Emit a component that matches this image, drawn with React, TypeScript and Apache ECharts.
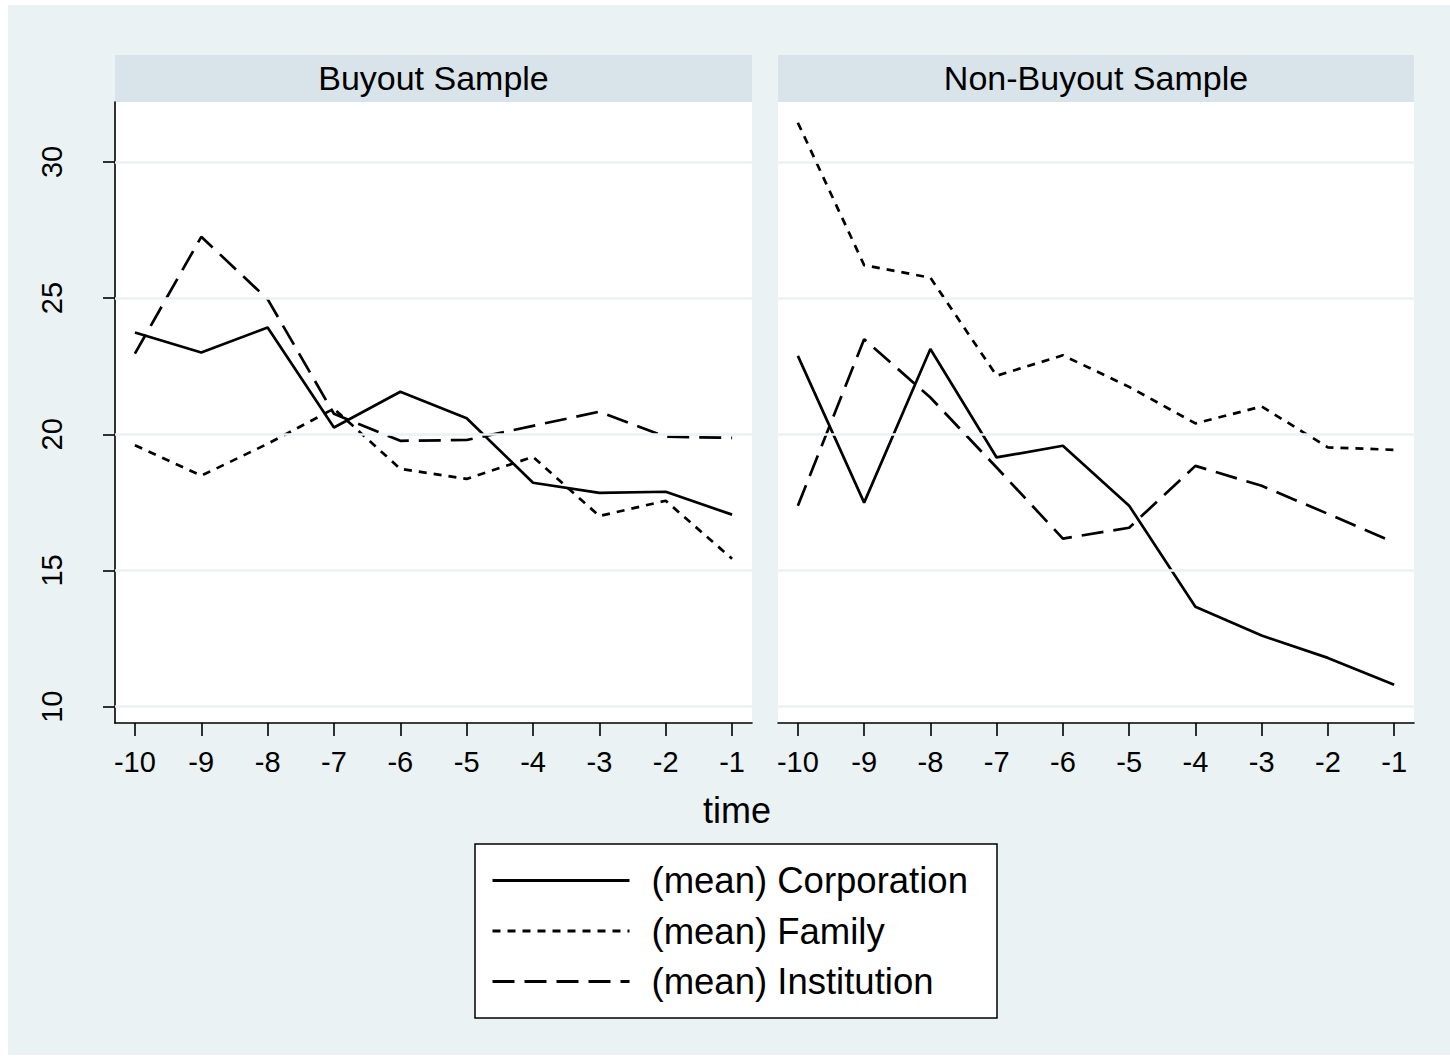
import React, { useEffect, useRef } from "react";
import * as echarts from "echarts";

const times = [-10, -9, -8, -7, -6, -5, -4, -3, -2, -1];
const seriesNames = ["(mean) Corporation", "(mean) Family", "(mean) Institution"];
const panelTitles = ["Buyout Sample", "Non-Buyout Sample"];
const yTicks = [10, 15, 20, 25, 30];

const buyoutCorporation = [23.74, 23.0, 23.92, 20.25, 21.56, 20.59, 18.22, 17.85, 17.89, 17.05];
const buyoutFamily = [19.6, 18.48, 19.65, 20.94, 18.73, 18.36, 19.17, 17.0, 17.56, 15.43];
const buyoutInstitution = [22.96, 27.25, 24.96, 20.75, 19.76, 19.79, 20.31, 20.83, 19.91, 19.87];
const nonBuyoutCorporation = [22.88, 17.49, 23.13, 19.15, 19.58, 17.38, 13.67, 12.61, 11.79, 10.8];
const nonBuyoutFamily = [31.44, 26.21, 25.75, 22.15, 22.9, 21.74, 20.4, 21.02, 19.52, 19.43];
const nonBuyoutInstitution = [17.38, 23.49, 21.35, 18.78, 16.17, 16.57, 18.84, 18.11, 17.08, 16.03];

const FONT = "'Liberation Sans', Arial, Helvetica, sans-serif";
const BG = "#EAF2F3";
const STRIP = "#D9E4EA";

const dashTypes: any[] = ["solid", [8, 7], [22, 10]];

export default function App() {
  const ref = useRef<HTMLDivElement>(null);
  useEffect(() => {
    if (!ref.current) return;
    const chart = echarts.init(ref.current, null, { renderer: "svg" });
    const panels = [
      [buyoutCorporation, buyoutFamily, buyoutInstitution],
      [nonBuyoutCorporation, nonBuyoutFamily, nonBuyoutInstitution],
    ];
    const grids = [
      { left: 115, top: 102, width: 637, height: 621 },
      { left: 778, top: 102, width: 636, height: 621 },
    ];
    const series: any[] = [];
    panels.forEach((p, gi) => {
      series.push({
        type: "line",
        name: "",
        xAxisIndex: gi,
        yAxisIndex: gi,
        data: [],
        z: 1,
        silent: true,
        markLine: {
          silent: true,
          symbol: "none",
          label: { show: false },
          lineStyle: { color: BG, width: 2.5, type: "solid" },
          data: yTicks.map((v) => ({ yAxis: v })),
        },
      });
      p.forEach((vals, si) => {
        series.push({
          type: "line",
          name: seriesNames[si],
          xAxisIndex: gi,
          yAxisIndex: gi,
          data: times.map((t, i) => [t, vals[i]]),
          symbol: "none",
          z: 3,
          lineStyle: { color: "#000", width: 2.7, type: dashTypes[si] },
          itemStyle: { color: "#000" },
        });
      });
    });

    const xAxes = grids.map((_, gi) => ({
      type: "value",
      gridIndex: gi,
      min: -10.3,
      max: -0.7,
      splitLine: { show: false },
      axisLine: { show: true, onZero: false, lineStyle: { color: "#000", width: 1.6 } },
      axisTick: { show: true, length: 13, customValues: times, lineStyle: { color: "#000", width: 1.6 } },
      axisLabel: {
        customValues: times,
        fontSize: 29,
        fontFamily: FONT,
        color: "#000",
        margin: 24,
      },
    }));
    const yAxes = grids.map((_, gi) => ({
      type: "value",
      gridIndex: gi,
      min: 9.4,
      max: 32.2,
      splitLine: { show: false },
      axisLine: { show: gi === 0, onZero: false, lineStyle: { color: "#000", width: 1.6 } },
      axisTick: { show: gi === 0, length: 12, customValues: yTicks, lineStyle: { color: "#000", width: 1.6 } },
      axisLabel: {
        show: gi === 0,
        customValues: yTicks,
        rotate: 90,
        fontSize: 29,
        fontFamily: FONT,
        color: "#000",
        margin: 49,
      },
    }));

    const graphic: any[] = [];
    grids.forEach((g, gi) => {
      graphic.push({
        type: "rect",
        shape: { x: g.left, y: 55, width: g.width, height: 47 },
        style: { fill: STRIP },
        silent: true,
      });
      graphic.push({
        type: "text",
        x: g.left + g.width / 2,
        y: 78,
        style: {
          text: panelTitles[gi],
          fontSize: 34,
          fontFamily: FONT,
          fill: "#000",
          textAlign: "center",
          textVerticalAlign: "middle",
        },
      });
    });
    graphic.push({
      type: "text",
      x: 737,
      y: 810,
      style: {
        text: "time",
        fontSize: 36,
        fontFamily: FONT,
        fill: "#000",
        textAlign: "center",
        textVerticalAlign: "middle",
      },
    });
    graphic.push({
      type: "rect",
      shape: { x: 475, y: 844, width: 522, height: 174 },
      style: { fill: "#fff", stroke: "#000", lineWidth: 1.5 },
      z: -1,
      silent: true,
    });

    chart.setOption({
      animation: false,
      grid: grids.map((g) => ({
        ...g,
        show: true,
        backgroundColor: "#fff",
        borderWidth: 0,
      })),
      xAxis: xAxes,
      yAxis: yAxes,
      legend: {
        data: seriesNames,
        orient: "vertical",
        left: 491,
        top: 862,
        itemWidth: 137,
        itemHeight: 20,
        itemGap: 13.5,
        padding: 0,
        selectedMode: false,
        itemStyle: { opacity: 0, borderWidth: 0 },
        lineStyle: { width: 3 },
        textStyle: {
          fontSize: 36.5,
          fontFamily: FONT,
          color: "#000",
          padding: [0, 0, 0, 17],
        },
      },
      graphic,
      series,
    });
    return () => chart.dispose();
  }, []);

  return (
    <div style={{ position: "absolute", left: 0, top: 0, width: 1450, height: 1058, background: "#fff" }}>
      <div style={{ position: "absolute", left: 8, top: 5, width: 1442, height: 1050, background: BG }} />
      <div ref={ref} style={{ position: "absolute", left: 0, top: 0, width: 1450, height: 1058 }} />
    </div>
  );
}
